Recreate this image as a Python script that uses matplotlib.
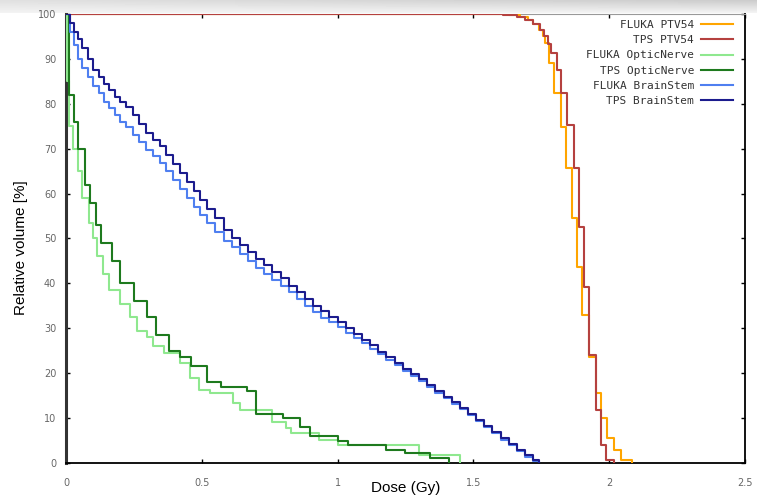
import numpy as np
import matplotlib
matplotlib.use("Agg")
import matplotlib.pyplot as plt

# dose [Gy] where each step starts, relative volume [%] after the step
fluka_ptv_dose = [0.00, 1.63, 1.67, 1.70, 1.72, 1.74, 1.755, 1.765, 1.779, 1.798, 1.824,
                  1.842, 1.864, 1.882, 1.901, 1.926, 1.952, 1.971, 1.993, 2.018, 2.044, 2.085]
fluka_ptv_vol = [100, 99.7, 99.3, 98.6, 97.8, 96.5, 95, 93.5, 89.1, 82.4, 74.8,
                 65.7, 54.6, 43.7, 33, 23.6, 15.6, 10, 5.6, 2.9, 0.7, 0]

tps_ptv_dose = [0.00, 1.61, 1.66, 1.69, 1.72, 1.745, 1.76, 1.775, 1.787, 1.809, 1.824,
                1.846, 1.871, 1.890, 1.908, 1.926, 1.952, 1.971, 1.989, 2.018]
tps_ptv_vol = [100, 99.7, 99.3, 98.7, 97.8, 96.5, 95, 93.3, 91.3, 87.5, 82.4,
               75.3, 65.7, 52.6, 39.2, 24.1, 11.8, 4, 0.7, 0]

fluka_on_dose = [0.00, 0.005, 0.01, 0.025, 0.045, 0.06, 0.085, 0.10, 0.115, 0.135, 0.16,
                 0.20, 0.235, 0.26, 0.30, 0.32, 0.36, 0.42, 0.455, 0.49, 0.53, 0.615,
                 0.64, 0.76, 0.81, 0.83, 0.93, 1.00, 1.30, 1.45]
fluka_on_vol = [100, 85, 75, 70, 65, 59, 53.5, 50, 46, 42, 38.5,
                35.5, 32.5, 29.5, 28, 26, 24.5, 22.3, 19, 16.3, 15.5, 13.4,
                11.8, 9.1, 7.8, 6.7, 5.1, 4, 1.8, 0]

tps_on_dose = [0.00, 0.01, 0.03, 0.045, 0.07, 0.09, 0.11, 0.13, 0.17, 0.20, 0.25,
               0.30, 0.33, 0.38, 0.42, 0.46, 0.52, 0.57, 0.665, 0.70, 0.80, 0.86,
               0.90, 1.00, 1.04, 1.18, 1.25, 1.34, 1.41]
tps_on_vol = [100, 82, 76, 70, 62, 58, 53, 49, 45, 40, 36,
              32.5, 28.5, 25, 23.5, 21.5, 18, 17, 16, 11, 10, 8,
              6, 5, 4, 3, 2.2, 1.1, 0]

fluka_bs_dose = [0.00, 0.015, 0.03, 0.045, 0.06, 0.08, 0.10, 0.12, 0.14, 0.16, 0.18, 0.20,
                 0.22, 0.245, 0.27, 0.295, 0.32, 0.345, 0.37, 0.395, 0.42, 0.445, 0.47,
                 0.495, 0.52, 0.55, 0.58, 0.61, 0.64, 0.67, 0.70, 0.73, 0.76, 0.79, 0.82,
                 0.85, 0.88, 0.91, 0.94, 0.97, 1.00, 1.03, 1.06, 1.09, 1.12, 1.15, 1.18,
                 1.21, 1.24, 1.27, 1.30, 1.33, 1.36, 1.39, 1.42, 1.45, 1.48, 1.51, 1.54,
                 1.57, 1.60, 1.63, 1.66, 1.69, 1.72, 1.74]
fluka_bs_vol = [100, 96, 93, 90, 88, 86, 84, 82.3, 80.5, 79, 77.5, 76,
                74.8, 73, 71.5, 69.8, 68.3, 66.8, 65, 63, 61, 59, 57,
                55.2, 53.5, 51.5, 49.5, 48, 46.5, 45, 43.5, 42, 40.8, 39.5, 38,
                36.5, 35, 33.7, 32.4, 31.3, 30.3, 29, 27.8, 26.7, 25.5, 24.2, 23,
                21.8, 20.6, 19.4, 18.2, 17, 15.7, 14.5, 13.2, 12, 10.7, 9.3, 8,
                6.7, 5.2, 3.9, 2.6, 1.4, 0.5, 0]

tps_bs_dose = [0.00, 0.015, 0.03, 0.045, 0.06, 0.08, 0.10, 0.12, 0.14, 0.16, 0.18, 0.20,
               0.22, 0.245, 0.27, 0.295, 0.32, 0.345, 0.37, 0.395, 0.42, 0.445, 0.47,
               0.495, 0.52, 0.55, 0.58, 0.61, 0.64, 0.67, 0.70, 0.73, 0.76, 0.79, 0.82,
               0.85, 0.88, 0.91, 0.94, 0.97, 1.00, 1.03, 1.06, 1.09, 1.12, 1.15, 1.18,
               1.21, 1.24, 1.27, 1.30, 1.33, 1.36, 1.39, 1.42, 1.45, 1.48, 1.51, 1.54,
               1.57, 1.60, 1.63, 1.66, 1.69, 1.72, 1.74]
tps_bs_vol = [100, 98, 96, 94.5, 92.5, 90, 87.5, 86, 84.5, 83, 81.5, 80.3,
              79.3, 77.5, 75.5, 73.5, 72, 70.5, 68.5, 66.5, 64.5, 62.5, 60.5,
              58.5, 56.5, 54.5, 52, 50, 48.5, 47, 45.5, 44, 42.5, 41.2, 39.5,
              38, 36.5, 35, 33.8, 32.5, 31.5, 30, 28.8, 27.5, 26.2, 24.8, 23.5,
              22.3, 21, 19.8, 18.6, 17.3, 16, 14.8, 13.5, 12.3, 11, 9.6, 8.3,
              7, 5.5, 4.2, 2.9, 1.7, 0.7, 0]

x_ticks = [0, 0.5, 1, 1.5, 2, 2.5]
x_tick_labels = ["0", "0.5", "1", "1.5", "2", "2.5"]
y_ticks = [0, 10, 20, 30, 40, 50, 60, 70, 80, 90, 100]

curves = [
    ("FLUKA PTV54", fluka_ptv_dose, fluka_ptv_vol, "#ffa500"),
    ("TPS PTV54", tps_ptv_dose, tps_ptv_vol, "#b5413f"),
    ("FLUKA OpticNerve", fluka_on_dose, fluka_on_vol, "#8fe88f"),
    ("TPS OpticNerve", tps_on_dose, tps_on_vol, "#1e7a1e"),
    ("FLUKA BrainStem", fluka_bs_dose, fluka_bs_vol, "#4f7ff0"),
    ("TPS BrainStem", tps_bs_dose, tps_bs_vol, "#1c1c8e"),
]

fig = plt.figure(figsize=(7.57, 4.98), dpi=100)

# grey fade along the top edge of the screenshot
band = fig.add_axes([0, 1 - 13 / 498, 1, 13 / 498], zorder=-1)
grad = np.linspace(0.80, 0.95, 13)[:, None] * np.ones((1, 200))
grad = grad + np.linspace(0.08, 0.0, 200)[None, :] * np.linspace(1, 0, 13)[:, None]
band.imshow(np.clip(grad, 0, 1), cmap="gray", vmin=0, vmax=1, aspect="auto")
band.axis("off")

ax = fig.add_axes([66 / 757, 1 - 463 / 498, 679 / 757, 449 / 498])

for label, d, v, c in curves:
    ax.step(d, v, where="post", color=c, lw=1.5, label=label, zorder=3)

ax.set_xlim(0, 2.5)
ax.set_ylim(0, 100)
ax.set_xticks(x_ticks)
ax.set_xticklabels(x_tick_labels)
ax.set_yticks(y_ticks)
ax.tick_params(direction="in", length=3, width=1, top=True, right=True,
               labelsize=7, labelcolor="#666666")
ax.tick_params(axis="x", pad=11)
ax.tick_params(axis="y", pad=7)

ax.spines["left"].set_linewidth(2.2)
ax.spines["left"].set_color("#333333")
ax.spines["bottom"].set_linewidth(1.3)
ax.spines["right"].set_linewidth(1.3)
ax.spines["top"].set_linewidth(0.8)
ax.spines["top"].set_color("#999999")

ax.set_xlabel("Dose (Gy)", fontsize=11, family="Liberation Sans")
ax.xaxis.set_label_coords(0.5, -0.04)
ax.set_ylabel("Relative volume [%]", fontsize=11, family="Liberation Sans")
ax.yaxis.set_label_coords(-0.056, 0.48)

leg = ax.legend(loc="upper right", bbox_to_anchor=((733 - 66) / 679, (463 - 20) / 449),
                markerfirst=False, frameon=False, borderpad=0, borderaxespad=0,
                handlelength=2.9, handletextpad=0.6, labelspacing=0.47,
                prop={"family": "DejaVu Sans Mono", "size": 8})
for t in leg.get_texts():
    t.set_color("#333333")

fig.savefig("out.png", dpi=100)
